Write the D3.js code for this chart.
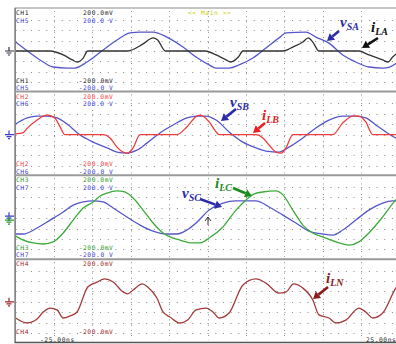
<!DOCTYPE html>
<html><head><meta charset="utf-8">
<script src="https://cdn.jsdelivr.net/npm/d3@7"></script>
<style>html,body{margin:0;padding:0;background:#fff;}svg{display:block}</style>
</head><body><svg id="c" width="396" height="344"></svg>
<script>
// Time base (ns) and channel scale (±200 per panel)
const timeRange = [-25, 25];
const ampRange = [-200, 200];
const timeLabels = ["-25.00ns", "25.00ns"];

// Panel 1: source voltage A (V) and load current A (mV)
const tSA = [-25,-23.1,-21.4,-20.1,-18.3,-17.3,-15.7,-13.6,-11.8,-10.1,-8.8,-7.1,-5.3,-3.2,-1.5,0.2,1.1,2.8,4.1,5.9,7.6,9.3,10.2,12.8,14.1,15.8,17.6,19.3,21.0,22.8,23.7,25];
const vSA = [43,-10,-53,-77,-82,-82,-53,5,53,87,91,91,67,19,-29,-67,-82,-82,-67,-34,14,63,87,91,67,38,-19,-53,-77,-82,-77,-48];
const tLA = [-25,-20.5,-18.8,-17.6,-17.0,-16.2,-15.6,-10.4,-8.4,-7.1,-6.5,-5.5,-0.3,1.1,2.4,3.0,4.0,4.6,9.8,11.1,12.4,13.1,13.7,14.5,19.7,21.0,22.8,23.5,24.1,25];
const iLA = [0,0,-19,-43,-53,-34,0,0,34,63,53,0,0,-19,-43,-53,-29,0,0,19,43,63,43,0,0,-19,-43,-53,-29,0];

// Panel 2: phase B
const tSB = [-25,-23.5,-22.2,-20.9,-19.6,-18.3,-16.6,-14.9,-13.1,-11.8,-10.5,-9.2,-7.9,-6.2,-4.5,-2.7,-1.4,-0.2,1.1,2.8,4.6,6.3,7.6,9.3,10.6,12.4,14.1,15.8,17.6,19.3,20.6,21.9,23.2,24.5,25];
const vSB = [51,80,89,89,80,51,-2,-36,-64,-84,-89,-75,-41,8,46,80,89,89,70,13,-36,-64,-79,-84,-60,-16,32,70,89,89,80,46,13,-16,-25];
const tLB = [-25,-24.0,-23.5,-22.2,-21.4,-20.8,-19.9,-19.2,-18.6,-13.6,-12.7,-11.8,-11.0,-10.4,-9.7,-8.8,-4.0,-2.7,-1.4,-0.9,0.2,1.1,1.5,6.3,7.2,8.0,8.9,9.6,10.2,11.1,16.3,17.6,18.9,19.7,20.6,21.5,25];
const iLB = [3,10,30,70,89,94,80,37,0,0,-16,-60,-84,-89,-64,0,0,37,89,94,61,13,0,0,-16,-50,-84,-89,-64,0,0,56,89,89,61,0,0];

// Panel 3: phase C
const tSC = [-25,-24.0,-22.2,-20.5,-18.8,-17.5,-16.2,-14.9,-13.6,-12.3,-10.5,-8.8,-7.1,-5.3,-4.0,-2.7,-1.5,0.2,2.0,3.7,6.3,8.0,9.8,11.5,13.2,15.0,16.3,17.6,19.3,21.0,22.8,24.1,25];
const vSC = [-76,-76,-47,-9,30,63,78,83,78,49,6,-33,-62,-76,-76,-57,-23,39,73,83,83,54,15,-23,-62,-76,-81,-57,-9,39,73,83,83];
const tLC = [-25,-24.0,-22.7,-21.4,-20.1,-18.8,-17.5,-16.2,-14.9,-14.0,-13.1,-11.8,-10.8,-9.7,-8.4,-7.1,-5.8,-4.9,-3.6,-2.0,-1.0,0.2,2.0,3.7,5.0,6.0,7.2,8.9,9.8,11.1,12.4,13.7,15.0,16.7,18.4,19.7,21.0,22.8,24.5,25];
const iLC = [-86,-105,-119,-124,-114,-71,-9,49,78,107,121,131,126,97,39,-23,-71,-90,-105,-119,-119,-95,-42,39,88,116,126,131,112,39,-33,-71,-90,-114,-129,-114,-71,6,88,107];

// Panel 4: neutral current
const tLN = [-25,-23.5,-22.2,-21.4,-20.5,-19.6,-18.8,-17.9,-17.0,-15.6,-14.4,-13.4,-12.3,-11.0,-10.4,-9.7,-8.5,-7.8,-6.6,-5.8,-4.9,-3.6,-2.6,-1.5,-0.2,0.7,1.5,2.8,4.6,6.3,7.6,9.3,10.2,11.2,12.4,13.7,14.5,15.8,16.7,18.0,19.7,20.6,21.5,22.8,24.5,25];
const iLN = [-78,-102,-83,-49,-30,-39,-78,-68,-49,71,95,110,95,47,38,57,86,71,18,-49,-73,-102,-88,-39,-30,-49,-78,-54,81,110,90,42,47,86,66,9,-63,-78,-102,-88,-30,-49,-78,-54,66,90];

const BLUE = "#5656cc", BLUE_T = "#3a3ad6", BLACK = "#333", RED = "#f03c3c", GREEN = "#3aac3a", DRED = "#a33a3a";

const panels = [
  {chans: [{name:"CH1", col:"#222", unit:"mV"}, {name:"CH5", col:BLUE_T, unit:" V"}],
   series: [{t:tSA, v:vSA, col:BLUE}, {t:tLA, v:iLA, col:BLACK}], gnd:["#334"]},
  {chans: [{name:"CH2", col:RED, unit:"mV"}, {name:"CH6", col:BLUE_T, unit:" V"}],
   series: [{t:tSB, v:vSB, col:BLUE}, {t:tLB, v:iLB, col:RED}], gnd:[BLUE_T]},
  {chans: [{name:"CH3", col:"#2a9a2a", unit:"mV"}, {name:"CH7", col:BLUE_T, unit:" V"}],
   series: [{t:tSC, v:vSC, col:BLUE}, {t:tLC, v:iLC, col:GREEN}], gnd:[BLUE_T, "#2a9a2a"]},
  {chans: [{name:"CH4", col:"#a02828", unit:"mV"}],
   series: [{t:tLN, v:iLN, col:DRED}], gnd:["#a02828"]}
];

const svg = d3.select("#c");
const W = 396;
const x0 = 15.6, divW = 38.4;
const x = d3.scaleLinear().domain(timeRange).range([x0, x0 + 10 * divW]);
const panelTop = [8, 91.5, 175.3, 259.2], bottom = 342.5;
const centers = [51, 134.6, 218.2, 301.8];
const divH = 10.4;

const mono = "DejaVu Sans Mono";
const FS = 6.3, LS = 0.55;   // label font size and letter spacing
function monoText(g, xp, yp, col, str) {
  return g.append("text").attr("x", xp).attr("y", yp).attr("fill", col)
    .attr("font-family", mono).attr("font-size", FS).attr("letter-spacing", LS).text(str);
}

panels.forEach((p, k) => {
  const cy = centers[k];
  const y = d3.scaleLinear().domain(ampRange).range([cy + 4 * divH, cy - 4 * divH]);
  const g = svg.append("g");
  const top = panelTop[k], bot = k < 3 ? panelTop[k + 1] : bottom;

  // dotted grid rows
  d3.range(-150, 151, 50).forEach(v => {
    const yy = Math.round(y(v));
    g.append("line").attr("x1", x0).attr("x2", W).attr("y1", yy + 0.5).attr("y2", yy + 0.5)
      .attr("stroke", "#8a8a8a").attr("stroke-width", 1).attr("stroke-dasharray", "1 " + (divW / 5 - 1));
  });
  // dotted grid columns
  d3.range(-20, 21, 5).forEach(t => {
    const xx = Math.round(x(t));
    g.append("line").attr("x1", xx + 0.5).attr("x2", xx + 0.5).attr("y1", top + 3).attr("y2", bot - 2)
      .attr("stroke", "#8a8a8a").attr("stroke-width", 1).attr("stroke-dasharray", "1 " + (divH / 2 - 1));
  });

  // channel range labels
  p.chans.forEach((c, i) => {
    monoText(g, 16, top + 7 + i * 7.5, c.col, c.name);
    monoText(g, 83, top + 7 + i * 7.5, c.col, "200.0" + c.unit);
    const by = k < 3 ? top + 74.6 + i * 7.5 : top + 74.6;
    monoText(g, 16, by, c.col, c.name);
    monoText(g, 78.7, by, c.col, "-200.0" + c.unit);
  });

  // ground markers
  p.gnd.forEach((col, i) => {
    const gy = cy + (p.gnd.length > 1 ? (i === 0 ? -2 : 2) : 0);
    const gp = d3.path();
    gp.moveTo(5, gy); gp.lineTo(14, gy);
    gp.moveTo(9, gy - 4); gp.lineTo(9, gy);
    gp.moveTo(6.5, gy + 2); gp.lineTo(11.5, gy + 2);
    gp.moveTo(8, gy + 4); gp.lineTo(10, gy + 4);
    g.append("path").attr("d", gp.toString()).attr("stroke", col).attr("stroke-width", 1.2).attr("fill", "none");
  });

  // waveforms
  const clipId = "clip" + k;
  svg.append("clipPath").attr("id", clipId).append("rect")
    .attr("x", x0).attr("y", top).attr("width", W - x0).attr("height", bot - top);
  const line = d3.line().x(d => x(d[0])).y(d => y(d[1])).curve(d3.curveMonotoneX);
  p.series.forEach(s => {
    g.append("path").datum(d3.zip(s.t, s.v)).attr("d", line).attr("clip-path", `url(#${clipId})`)
      .attr("fill", "none").attr("stroke", s.col).attr("stroke-width", 1.3).attr("stroke-linejoin", "round");
  });
});

// frame and panel separators
svg.append("line").attr("x1", x0 - 0.5).attr("x2", x0 - 0.5).attr("y1", panelTop[0]).attr("y2", bottom)
  .attr("stroke", "#6a6a6a").attr("stroke-width", 1.4);
svg.append("line").attr("x1", x0 - 1).attr("x2", W).attr("y1", panelTop[0]).attr("y2", panelTop[0])
  .attr("stroke", "#8a8a8a").attr("stroke-width", 1.2);
panelTop.slice(1).forEach(yy => {
  svg.append("line").attr("x1", x0 - 1).attr("x2", W).attr("y1", yy).attr("y2", yy)
    .attr("stroke", "#9a9a9a").attr("stroke-width", 2);
});
svg.append("line").attr("x1", x0 - 1).attr("x2", W).attr("y1", bottom).attr("y2", bottom)
  .attr("stroke", "#555").attr("stroke-width", 1.6);

// header and time labels
monoText(svg, 188, 15, "#cccc10", "<< Main >>");
monoText(svg, 40, 341.5, "#222", timeLabels[0]);
monoText(svg, 366, 341.5, "#222", timeLabels[1]);

// waveform annotations
function arrow(x1, y1, x2, y2, col) {
  const a = Math.atan2(y2 - y1, x2 - x1), L = 7, Wd = 4.2;
  const bx = x2 - L * Math.cos(a), by = y2 - L * Math.sin(a);
  svg.append("line").attr("x1", x1).attr("y1", y1).attr("x2", bx).attr("y2", by)
    .attr("stroke", col).attr("stroke-width", 2.6);
  const pts = [[x2, y2], [bx + Wd * Math.sin(a), by - Wd * Math.cos(a)], [bx - Wd * Math.sin(a), by + Wd * Math.cos(a)]];
  svg.append("polygon").attr("points", pts.map(p => p.join(",")).join(" ")).attr("fill", col);
}
function label(xp, yp, main, sub, col) {
  const t = svg.append("text").attr("x", xp).attr("y", yp).attr("fill", col)
    .attr("font-family", "Liberation Serif").attr("font-style", "italic").attr("font-weight", "bold");
  t.append("tspan").attr("font-size", 15).text(main);
  t.append("tspan").attr("font-size", 10).attr("dy", 3).text(sub);
}
label(340, 27, "v", "SA", "#2c2ca8");
arrow(339, 31, 327, 41, "#2c2ca8");
label(371, 32, "i", "LA", "#111");
arrow(378, 38, 362, 48, "#111");
label(230, 107, "v", "SB", "#2c2ca8");
arrow(236, 109, 221, 121, "#2c2ca8");
label(262, 120, "i", "LB", "#e82020");
arrow(265, 123, 253, 133, "#e82020");
label(182, 198, "v", "SC", "#2c2ca8");
arrow(200, 199, 222, 207, "#2c2ca8");
label(215, 188, "i", "LC", "#1a8c1a");
arrow(233, 188, 252, 196, "#1a8c1a");
label(326, 283, "i", "LN", "#8a1c1c");
arrow(328, 287, 313, 299, "#8a1c1c");

// cursor marker
svg.append("path").attr("d", "M208,217 L205,221 M208,217 L211,221 M208,217 L208,225")
  .attr("stroke", "#333").attr("stroke-width", 1).attr("fill", "none");
</script></body></html>
